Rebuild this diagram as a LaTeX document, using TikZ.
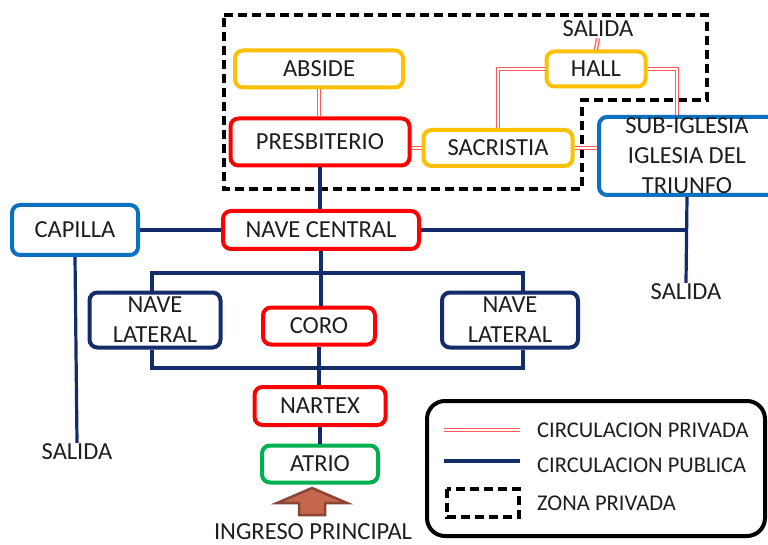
\documentclass[tikz,border=0pt]{standalone}
\usepackage{fontspec}
\setmainfont{Carlito}
\definecolor{ambar}{HTML}{FFC000}
\definecolor{rojo}{HTML}{FF0000}
\definecolor{verde}{HTML}{00B050}
\definecolor{azul}{HTML}{0A70C0}
\definecolor{marino}{HTML}{142C6A}
\definecolor{ladrillo}{HTML}{C4674D}
\definecolor{ladrilloosc}{HTML}{8B4535}
\definecolor{tinta}{HTML}{1E1E1E}
\begin{document}
\begin{tikzpicture}[x=1pt,y=-1pt,
  caja/.style={draw, line width=4pt, rounded corners=8pt, fill=white, align=center, inner sep=0pt, text=tinta, font=\fontsize{24.5}{30}\selectfont},
  texto/.style={font=\fontsize{24.5}{28}\selectfont, text=tinta, inner sep=1pt},
  privada/.style={draw=red!65, double=white, line width=1.3pt, double distance=1.6pt},
  publica/.style={draw=marino, line width=3.2pt},
  zona/.style={draw=black, line width=3.2pt, dash pattern=on 9pt off 5pt}]
\useasboundingbox (0,0) rectangle (768,545);

% Private zone
\draw[zona] (224,15) -- (707,15) -- (707,100) -- (582,100) -- (582,189) -- (224,189) -- cycle;

% Spaces
\node[caja, draw=ambar, minimum width=168, minimum height=37] (abside) at (319,69) {ABSIDE};
\node[caja, draw=rojo, minimum width=179, minimum height=47] (presb) at (320,142) {PRESBITERIO};
\node[caja, draw=ambar, minimum width=149, minimum height=36] (sacr) at (498,148) {SACRISTIA};
\node[caja, draw=ambar, minimum width=99, minimum height=35] (hall) at (596,69) {HALL};
\node[caja, draw=azul, minimum width=176, minimum height=78] (sub) at (687,156) {SUB-IGLESIA\\IGLESIA DEL\\TRIUNFO};
\node[caja, draw=azul, minimum width=126, minimum height=50] (capilla) at (75,230) {CAPILLA};
\node[caja, draw=rojo, minimum width=196, minimum height=38] (navec) at (321,230) {NAVE CENTRAL};
\node[caja, draw=marino, minimum width=131, minimum height=55] (navel1) at (155,320) {NAVE\\LATERAL};
\node[caja, draw=rojo, minimum width=112, minimum height=37] (coro) at (319,326) {CORO};
\node[caja, draw=marino, minimum width=136, minimum height=55] (navel2) at (510,320) {NAVE\\LATERAL};
\node[caja, draw=rojo, minimum width=131, minimum height=38] (nartex) at (320,406) {NARTEX};
\node[caja, draw=verde, minimum width=116, minimum height=37] (atrio) at (320,464) {ATRIO};

% Exits and entrance
\node[texto] (salidaA) at (598,29) {SALIDA};
\node[texto] (salidaB) at (686,292) {SALIDA};
\node[texto] (salidaC) at (77,452) {SALIDA};
\node[texto] (ingreso) at (313,532) {INGRESO PRINCIPAL};

% Private circulation
\draw[privada] (abside.south) -- (abside.south |- presb.north);
\draw[privada] (presb.east |- sacr.west) -- (sacr.west);
\draw[privada] (sacr.north) |- (hall.west);
\draw[privada] (hall.east) -| ([xshift=-10pt]sub.north);
\draw[privada] (hall.north) -- (salidaA.south);
\draw[privada] (sacr.east) -- (sacr.east -| sub.west);

% Public circulation
\coordinate (bl) at (152,273);
\coordinate (br) at (523,273);
\coordinate (cl) at (152,368);
\coordinate (cr) at (523,368);
\draw[publica] (presb.south) -- (presb.south |- navec.north);
\draw[publica] (capilla.east) -- (navec.west);
\draw[publica] (navec.east) -- (navec.east -| sub.south);
\draw[publica] (sub.south) -- (salidaB.north);
\draw[publica] (capilla.south) -- (salidaC.north);
\draw[publica] (navec.south) -- (navec.south |- coro.north);
\draw[publica] (bl |- navel1.north) -- (bl) -- (br) -- (br |- navel2.north);
\draw[publica] (cl |- navel1.south) -- (cl) -- (cr) -- (cr |- navel2.south);
\draw[publica] (coro.south) -- (coro.south |- nartex.north);
\draw[publica] (nartex.south) -- (nartex.south |- atrio.north);

% Entrance arrow
\draw[fill=ladrillo, draw=ladrilloosc, line width=2.5pt, line join=miter]
  (312,488) -- (347,503) -- (325,503) -- (325,515) -- (299,515) -- (299,503) -- (277,503) -- cycle;

% Legend
\draw[line width=4pt, rounded corners=18pt] (427,401) rectangle (765,536);
\coordinate (ley1) at (444,430);
\coordinate (ley2) at (444,461);
\draw[privada] (ley1) -- ++(76,0);
\draw[publica] (ley2) -- ++(76,0);
\draw[zona] (447,489) rectangle (519,517);
\node[texto, anchor=west, font=\fontsize{22.5}{24}\selectfont] (leyA) at (536,430) {CIRCULACION PRIVADA};
\node[texto, anchor=west, font=\fontsize{22.5}{24}\selectfont] (leyB) at (536,465) {CIRCULACION PUBLICA};
\node[texto, anchor=west, font=\fontsize{22.5}{24}\selectfont] (leyC) at (536,503) {ZONA PRIVADA};
\end{tikzpicture}
\end{document}
